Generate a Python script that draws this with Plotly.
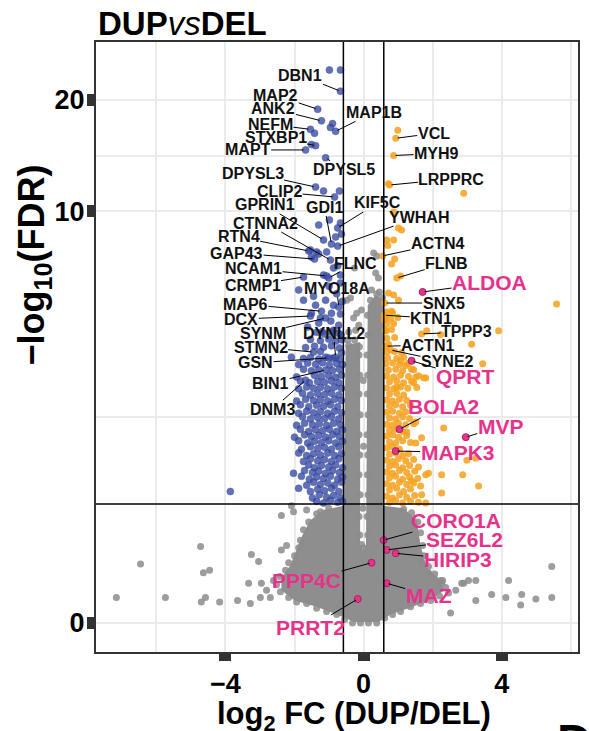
import numpy as np
import plotly.graph_objects as go

FONT = "Liberation Sans, Arial, sans-serif"

# thresholds
fc_cut = 0.585          # log2(1.5)
fdr_cut = 1.0           # -log10(0.1)

# axis ticks (raw -log10 FDR values)
x_ticks = [-4, 0, 4]
x_tick_text = ["\u22124", "0", "4"]
x_minor = [-6, -2, 2, 6]
y_ticks = [0, 10, 20]
y_tick_text = ["0", "10", "20"]

# ---------------- data: (log2FC, -log10 FDR) ----------------
down_points = [
    (-0.99, 24.0), (-0.67, 24.0), (-0.90, 17.3), (-0.96, 16.9), (-1.42, 16.3), (-1.51, 15.2),
    (-1.16, 11.36), (-0.70, 11.36), (-0.99, 9.45), (-1.30, 9.14), (-0.67, 9.26), (-0.64, 8.62),
    (-0.81, 8.46), (-1.36, 7.67), (-1.54, 7.77), (-1.51, 7.42), (-1.30, 7.57), (-1.07, 7.67),
    (-0.87, 6.90), (-1.16, 6.58), (-0.67, 6.58), (-0.67, 6.24), (-1.88, 5.95), (-1.74, 5.55),
    (-1.39, 5.36), (-1.10, 5.55), (-0.87, 5.36), (-0.93, 5.07), (-1.51, 5.07), (-1.25, 4.90),
    (-0.67, 5.04), (-0.72, 4.66), (-0.87, 4.50), (-1.30, 4.73), (-3.86, 1.15),
    (-0.75, 7.00), (-1.00, 6.10), (-0.78, 5.80), (-1.45, 5.70), (-0.62, 5.50), (-1.20, 4.45),
    (-0.95, 4.80), (-0.65, 4.35), (-1.62, 4.60),
    (-1.36, 4.43), (-1.13, 4.38), (-0.93, 4.44), (-0.72, 4.40),
    (-1.54, 4.21), (-1.25, 4.17), (-1.01, 4.22), (-0.81, 4.16), (-0.64, 4.20),
    (-1.68, 3.97), (-1.42, 4.01), (-1.16, 3.98), (-0.93, 4.02), (-0.70, 3.96),
    (-1.25, 3.86), (-0.64, 3.82),
    (-2.09, 3.70), (-1.74, 3.66), (-1.54, 3.69), (-1.30, 3.65), (-1.10, 3.70), (-0.90, 3.67), (-0.70, 3.64),
    (-1.88, 3.50), (-1.62, 3.54), (-1.39, 3.51), (-1.19, 3.55), (-0.99, 3.49), (-0.78, 3.53), (-0.61, 3.50),
    (-1.74, 3.38), (-1.51, 3.34), (-1.30, 3.37), (-0.90, 3.35), (-0.70, 3.38),
    (-1.94, 3.19), (-1.42, 3.23), (-1.22, 3.20), (-1.01, 3.22), (-0.81, 3.18), (-0.64, 3.23),
    (-1.83, 3.09), (-1.57, 3.05), (-1.33, 3.08), (-1.13, 3.06), (-0.93, 3.09), (-0.72, 3.05),
    (-1.88, 2.91), (-1.65, 2.95), (-1.45, 2.92), (-1.25, 2.94), (-1.04, 2.91), (-0.84, 2.95), (-0.64, 2.92),
    (-1.77, 2.81), (-1.54, 2.77), (-1.33, 2.80), (-1.13, 2.78), (-0.93, 2.81), (-0.72, 2.77),
    (-1.94, 2.64), (-1.68, 2.68), (-1.45, 2.65), (-1.25, 2.67), (-1.04, 2.64), (-0.84, 2.68), (-0.64, 2.65),
    (-1.83, 2.56), (-1.59, 2.52), (-1.36, 2.55), (-1.16, 2.53), (-0.96, 2.56), (-0.75, 2.52),
    (-1.88, 2.39), (-1.65, 2.43), (-1.45, 2.40), (-1.25, 2.42), (-1.04, 2.39), (-0.84, 2.43), (-0.64, 2.40),
    (-1.77, 2.32), (-1.54, 2.28), (-1.33, 2.31), (-1.13, 2.29), (-0.93, 2.32), (-0.72, 2.28),
    (-1.94, 2.16), (-1.71, 2.20), (-1.48, 2.17), (-1.28, 2.19), (-1.07, 2.16), (-0.87, 2.20), (-0.67, 2.17),
    (-1.83, 2.09), (-1.59, 2.05), (-1.39, 2.08), (-1.19, 2.06), (-0.99, 2.09), (-0.78, 2.05), (-0.61, 2.08),
    (-2.00, 1.95), (-1.71, 1.99), (-1.51, 1.96), (-1.30, 1.98), (-1.10, 1.95), (-0.90, 1.99), (-0.70, 1.96),
    (-1.88, 1.89), (-1.62, 1.85), (-1.42, 1.88), (-1.22, 1.86), (-1.01, 1.89), (-0.81, 1.85), (-0.61, 1.88),
    (-1.80, 1.75), (-1.54, 1.79), (-1.33, 1.76), (-1.13, 1.78), (-0.93, 1.75), (-0.72, 1.79),
    (-1.88, 1.69), (-1.65, 1.65), (-1.45, 1.68), (-1.25, 1.66), (-1.04, 1.69), (-0.84, 1.65), (-0.64, 1.68),
    (-1.74, 1.56), (-1.54, 1.60), (-1.33, 1.57), (-1.13, 1.59), (-0.93, 1.56), (-0.72, 1.60),
    (-1.59, 1.51), (-1.42, 1.47), (-1.22, 1.50), (-1.01, 1.48), (-0.81, 1.51), (-0.61, 1.47),
    (-2.03, 1.39), (-1.71, 1.43), (-1.48, 1.40), (-1.30, 1.42), (-1.10, 1.39), (-0.90, 1.43), (-0.70, 1.40),
    (-1.80, 1.35), (-1.57, 1.31), (-1.36, 1.34), (-1.16, 1.32), (-0.96, 1.35), (-0.75, 1.31), (-0.61, 1.34),
    (-1.65, 1.23), (-1.45, 1.27), (-1.25, 1.24), (-1.04, 1.26), (-0.84, 1.23), (-0.64, 1.27),
    (-1.88, 1.19), (-1.54, 1.15), (-1.33, 1.18), (-1.13, 1.16), (-0.93, 1.19), (-0.72, 1.15),
    (-1.48, 1.07), (-1.28, 1.11), (-1.07, 1.08), (-0.87, 1.10), (-0.67, 1.07),
    (-1.36, 1.03), (-1.16, 1.01), (-0.96, 1.04), (-0.75, 1.02), (-0.61, 1.03),
]

up_points = [
    (0.99, 16.6), (2.90, 11.2), (0.72, 11.9), (1.01, 8.97), (1.10, 8.85), (0.67, 8.3), (0.87, 8.3),
    (0.70, 8.0), (0.81, 7.08), (0.90, 7.32), (1.07, 6.54), (0.72, 5.83), (0.87, 5.75), (1.01, 5.55),
    (5.59, 5.40), (0.81, 5.14), (0.87, 9.94), (1.83, 4.48), (2.23, 4.36), (3.91, 4.48), (3.13, 4.07),
    (3.45, 3.52), (1.22, 3.48), (1.51, 3.18), (1.80, 3.16), (1.45, 3.05), (0.96, 2.95), (1.51, 2.22),
    (1.25, 2.04), (2.32, 2.11), (1.51, 1.85), (1.68, 1.94), (3.25, 1.61), (2.99, 1.58), (1.88, 1.39),
    (1.80, 1.37), (2.26, 1.37), (2.87, 1.37), (3.33, 1.22), (2.26, 1.13), (1.68, 1.11), (1.80, 1.01),
    (1.39, 1.29), (1.65, 1.22), (0.60, 4.83), (0.64, 4.47), (1.07, 3.60), (1.39, 3.38), (1.74, 3.17),
    (0.67, 5.11), (0.84, 5.09),
    (0.64, 4.90), (0.78, 4.88), (0.99, 4.92),
    (0.67, 4.70), (0.87, 4.72),
    (0.64, 4.50), (0.81, 4.52),
    (0.67, 4.25), (0.90, 4.27),
    (0.72, 4.07),
    (0.67, 3.84), (0.90, 3.86), (1.10, 3.82),
    (0.70, 3.68), (0.96, 3.66), (1.16, 3.70),
    (0.64, 3.52), (0.84, 3.54), (1.04, 3.50), (1.28, 3.53),
    (0.72, 3.36), (0.93, 3.38), (1.13, 3.34), (1.45, 3.37),
    (0.67, 3.21), (0.87, 3.19), (1.07, 3.23), (1.30, 3.20), (1.59, 3.22),
    (0.75, 3.07), (0.96, 3.09), (1.16, 3.05), (1.39, 3.08),
    (0.67, 2.93), (0.87, 2.91), (1.07, 2.95), (1.28, 2.92), (1.54, 2.94),
    (0.75, 2.79), (0.96, 2.81), (1.16, 2.77),
    (0.67, 2.66), (0.84, 2.64), (1.04, 2.68), (1.25, 2.65),
    (0.75, 2.54), (0.93, 2.56), (1.13, 2.52), (1.36, 2.55),
    (0.67, 2.41), (0.84, 2.43), (1.04, 2.39), (1.22, 2.42),
    (0.75, 2.30), (0.93, 2.28), (1.13, 2.32), (1.33, 2.29),
    (0.67, 2.18), (0.84, 2.16), (1.01, 2.20), (1.22, 2.17), (1.45, 2.19),
    (0.75, 2.07), (0.93, 2.09), (1.13, 2.05),
    (0.67, 1.97), (0.84, 1.99), (1.01, 1.95), (1.25, 1.98),
    (0.75, 1.87), (0.93, 1.85), (1.13, 1.89), (1.36, 1.86),
    (0.67, 1.77), (0.84, 1.79), (1.04, 1.75),
    (0.75, 1.67), (0.93, 1.69), (1.13, 1.65), (1.30, 1.68),
    (0.67, 1.58), (0.84, 1.56), (1.01, 1.60), (1.22, 1.57), (1.45, 1.59),
    (0.75, 1.49), (0.93, 1.51), (1.13, 1.47), (1.33, 1.50), (1.59, 1.48),
    (0.67, 1.41), (0.84, 1.39), (1.04, 1.43), (1.25, 1.40), (1.48, 1.42),
    (0.75, 1.33), (0.93, 1.35), (1.13, 1.31), (1.33, 1.34), (1.57, 1.32),
    (0.67, 1.25), (0.84, 1.23), (1.04, 1.27), (1.25, 1.24), (1.45, 1.26),
    (0.75, 1.17), (0.96, 1.19), (1.16, 1.15), (1.36, 1.18),
    (0.67, 1.09), (0.84, 1.07), (1.04, 1.11), (1.25, 1.08), (1.48, 1.10),
    (0.75, 1.02), (0.93, 1.04), (1.13, 1.01), (1.36, 1.03), (1.59, 1.02),
]

ns_points = [
    # scattered, between the FC cut-offs
    (0.38, 7.47), (0.29, 7.62), (0.35, 6.67), (0.43, 6.45), (0.23, 5.95), (0.46, 5.87),
    (-0.49, 5.55), (-0.38, 5.63), (-0.06, 5.18), (-0.20, 5.07), (-0.29, 4.90), (-0.14, 4.66),
    (-0.43, 4.44), (-0.23, 4.50), (-0.46, 4.19), (-0.26, 6.90),
    # scattered, below the FDR cut-off
    (-7.16, 0.16), (-6.46, 0.41), (-5.74, 0.16), (-4.72, 0.56), (-4.64, 0.34), (-4.46, 0.36),
    (-4.70, 0.13), (-4.58, 0.16), (-4.17, 0.13), (-3.65, 0.14), (-3.28, 0.12), (-3.25, 0.49),
    (-3.04, 0.43), (-2.38, 0.87), (-2.38, 0.53), (-2.09, 0.98), (-1.65, 0.93), (2.52, 0.06),
    (3.25, 0.14), (3.71, 0.18), (4.12, 0.16), (4.55, 0.11), (4.58, 0.18), (4.99, 0.15),
    (5.45, 0.16), (5.45, 0.39), (4.20, 0.28), (3.25, 0.28), (2.90, 0.26), (2.23, 0.28),
    (1.88, 0.34), (1.68, 0.42), (-3.33, 0.26), (-2.96, 0.26), (-2.81, 0.21), (-2.99, 0.16),
    (-2.70, 0.16), (-2.61, 0.28), (-2.23, 0.57), (-2.03, 0.91), (2.46, 0.19), (2.67, 0.21),
    (2.84, 0.26), (3.04, 0.28), (2.26, 0.26),
    # edge of the dense cloud
    (-1.88, 0.55), (-2.00, 0.48), (-2.17, 0.42), (-2.26, 0.36), (-2.43, 0.31), (-2.52, 0.25),
    (-2.41, 0.20), (-2.17, 0.16), (-1.94, 0.13), (-1.65, 0.12), (-1.36, 0.09), (-1.07, 0.07),
    (-0.78, 0.05), (-0.55, 0.02), (-0.32, 0.0), (-0.09, 0.0), (0.14, 0.0), (0.38, 0.0),
    (0.61, 0.03), (0.84, 0.05), (1.07, 0.07), (1.36, 0.10), (1.65, 0.12), (1.94, 0.14),
    (2.20, 0.17), (2.38, 0.23), (2.29, 0.28), (2.06, 0.33), (1.88, 0.39), (1.74, 0.48),
    (1.71, 0.57), (1.65, 0.69), (1.57, 0.80), (1.39, 0.90), (1.16, 0.94), (-1.59, 0.80),
    (-1.74, 0.72), (-1.83, 0.62), (-1.36, 0.89), (-1.01, 0.95), (-1.25, 0.91),
    (-0.13, 3.76), (-0.11, 3.23), (-0.13, 2.79), (-0.10, 2.36), (-0.13, 1.99), (-0.11, 1.66),
    (-0.13, 1.37), (-0.10, 1.11), (-0.13, 0.86), (-0.11, 0.67), (-0.06, 0.58), (0.00, 0.55),
    (0.11, 5.00), (0.13, 4.35), (0.10, 3.76), (0.12, 3.23), (0.11, 2.79), (0.13, 2.36),
    (0.10, 1.99), (0.12, 1.66), (0.11, 1.37), (0.13, 1.11), (0.10, 0.86), (0.12, 0.67),
    (-0.01, 3.10), (0.00, 1.80), (-0.02, 0.95),
    (-0.43, 4.04), (-0.26, 4.19), (-0.12, 3.99), (0.20, 5.55), (0.38, 5.79), (0.55, 5.63),
]

# outline of the solid, fully overlapping part of the non-significant cloud
dense_fc = [-0.52, -0.10, -0.10, -0.02, 0.07, 0.12, 0.35, 0.58, 0.58, 1.16, 1.54, 1.65, 1.83,
            2.17, 2.35, 1.88, 1.30, 0.78, 0.43, -0.26, -0.78, -1.36, -2.00, -2.38, -2.38,
            -2.12, -1.94, -1.77, -1.54, -1.16, -0.58]
dense_fdr = [4.04, 4.13, 0.58, 0.52, 0.58, 5.36, 5.75, 5.55, 0.98, 0.95, 0.82, 0.57, 0.38,
             0.30, 0.21, 0.14, 0.09, 0.05, 0.006, 0.006, 0.05, 0.10, 0.14, 0.21, 0.30,
             0.40, 0.53, 0.67, 0.82, 0.93, 0.98]

# labelled genes
lab_gene = ["DBN1", "MAP2", "ANK2", "MAP1B", "NEFM", "STXBP1", "MAPT", "DPYSL5", "DPYSL3",
            "CLIP2", "GPRIN1", "GDI1", "KIF5C", "YWHAH", "CTNNA2", "RTN4", "GAP43", "NCAM1",
            "CRMP1", "FLNC", "MYO18A", "MAP6", "DCX", "SYNM", "STMN2", "GSN", "DYNLL2", "BIN1",
            "DNM3",
            "VCL", "MYH9", "LRPPRC", "ACTN4", "FLNB", "SNX5", "KTN1", "TPPP3", "ACTN1", "SYNE2",
            "ALDOA", "QPRT", "BOLA2", "MVP", "MAPK3", "CORO1A", "SEZ6L2", "HIRIP3", "PPP4C",
            "MAZ", "PRRT2"]
lab_fc = [-0.67, -1.33, -1.22, -0.81, -1.54, -1.39, -1.68, -1.10, -1.39,
          -0.84, -1.16, -0.93, -0.75, -0.75, -0.96, -1.59, -1.42, -1.07,
          -1.74, -1.01, -0.72, -1.22, -1.54, -1.10, -1.45, -1.01, -0.81, -1.10,
          -1.68,
          0.93, 0.87, 0.75, 0.55, 0.96, 0.61, 0.60, 1.68, 0.64, 0.78,
          1.71, 1.39, 1.04, 2.96, 0.93, 0.58, 0.67, 0.93, 0.23,
          0.67, -0.17]
lab_fdr = [21.1, 18.9, 17.6, 16.5, 16.7, 15.1, 14.7, 14.0, 11.65,
           10.94, 8.3, 8.08, 8.97, 7.97, 7.27, 7.72, 7.32, 6.54,
           6.49, 6.45, 5.29, 5.14, 4.97, 4.90, 3.84, 3.68, 3.70, 3.36,
           3.11,
           15.8, 14.2, 11.8, 7.47, 6.45, 5.44, 5.0, 4.38, 4.01, 3.90,
           5.87, 3.60, 2.09, 1.95, 1.72, 0.62, 0.53, 0.50, 0.42,
           0.26, 0.15]
lab_group = ["down"] * 29 + ["up"] * 10 + ["highlight"] * 11

# label placement (pixel offsets of the label centre from its point)
lab_dx = [-40, -42, -48, 38, -40, -40, -58, 18, -63,
          -55, -59, -7, 40, 81, -65, -70, -78, -73,
          -51, 27, -2, -76, -69, -63, -53, -73, -2, -55,
          -33,
          38, 43, 62, 55, 50, 59, 47, 45, 42, 57,
          67, 54, 44, 35, 62, 72, 78, 62, -65,
          42, -47]
lab_dy = [-16, -14, -12, -19, -5, -8, 0, 12, -14,
          -5, -35, -37, -25, -29, -37, -14, -6, -7,
          8, -15, -19, -7, 3, 15, -5, 5, -24, 13,
          29,
          -5, -2, -6, -12, -15, 0, 3, -2, -1, 12,
          -9, 16, -23, -11, 1, -20, -10, 6, 18,
          12, 28]

# ---------------- figure ----------------
def ty(v):
    """pseudo-log y scale used by the chart: log10(1 + y)"""
    return np.log10(1.0 + np.asarray(v, dtype=float))

BLUE = "#3A4DA6"
ORANGE = "#F5A11C"
GREY = "#8C8C8C"
PINK = "#E5338C"

grp = np.array(lab_group)
lfc = np.array(lab_fc)
lfdr = np.array(lab_fdr)

down_fc = [p[0] for p in down_points] + list(lfc[grp == "down"])
down_fdr = [p[1] for p in down_points] + list(lfdr[grp == "down"])
up_fc = [p[0] for p in up_points] + list(lfc[grp == "up"])
up_fdr = [p[1] for p in up_points] + list(lfdr[grp == "up"])
ns_fc = [p[0] for p in ns_points]
ns_fdr = [p[1] for p in ns_points]

fig = go.Figure()
fig.add_trace(go.Scatter(x=dense_fc, y=ty(dense_fdr), mode="lines", fill="toself",
                         fillcolor="#8E8E8E", line=dict(width=0), hoverinfo="skip"))
fig.add_trace(go.Scatter(x=ns_fc, y=ty(ns_fdr), mode="markers",
                         marker=dict(size=7, color=GREY, opacity=0.85, line=dict(width=0))))
fig.add_trace(go.Scatter(x=down_fc, y=ty(down_fdr), mode="markers",
                         marker=dict(size=7, color=BLUE, opacity=0.8,
                                     line=dict(width=0.6, color="#2E3F8F"))))
fig.add_trace(go.Scatter(x=up_fc, y=ty(up_fdr), mode="markers",
                         marker=dict(size=7, color=ORANGE, opacity=0.85, line=dict(width=0))))
fig.add_trace(go.Scatter(x=lfc[grp == "highlight"], y=ty(lfdr[grp == "highlight"]), mode="markers",
                         marker=dict(size=7, color=PINK, line=dict(width=1, color="#A8235F"))))

annotations = []
for g, fc, fdr, grpname, dx, dy in zip(lab_gene, lab_fc, lab_fdr, lab_group, lab_dx, lab_dy):
    hl = grpname == "highlight"
    annotations.append(dict(
        x=fc, y=float(ty(fdr)), xref="x", yref="y", text=g, showarrow=True,
        ax=dx, ay=dy, arrowhead=0, arrowwidth=1, arrowcolor="black", standoff=2,
        font=dict(family=FONT, size=21 if hl else 16, color=PINK if hl else "#111111",
                  weight="bold"),
        borderpad=0,
    ))

# titles
annotations.append(dict(text="<b>DUP</b><i>vs</i><b>DEL</b>", xref="paper", yref="paper",
                        x=0.0, y=1.0, xanchor="left", yanchor="bottom", showarrow=False,
                        yshift=-2,
                        font=dict(family=FONT, size=33, color="black")))
annotations.append(dict(text="log<sub>2</sub> FC (DUP/DEL)", xref="paper", yref="paper",
                        x=0.535, y=-0.105, xanchor="center", yanchor="middle", showarrow=False,
                        font=dict(family=FONT, size=31, color="black", weight="bold")))
annotations.append(dict(text="\u2212log<sub>10</sub>(FDR)", xref="paper", yref="paper",
                        x=-0.128, y=0.634, xanchor="center", yanchor="middle", showarrow=False,
                        textangle=-90,
                        font=dict(family=FONT, size=36, color="black", weight="bold")))
annotations.append(dict(text="D", xref="paper", yref="paper", x=0.952, y=-0.100,
                        xanchor="left", yanchor="top", showarrow=False,
                        font=dict(family=FONT, size=48, color="black", weight="bold")))

shapes = [
    dict(type="line", xref="x", yref="paper", x0=-fc_cut, x1=-fc_cut, y0=0, y1=1,
         line=dict(color="black", width=1.5), layer="above"),
    dict(type="line", xref="x", yref="paper", x0=fc_cut, x1=fc_cut, y0=0, y1=1,
         line=dict(color="black", width=1.5), layer="above"),
    dict(type="line", xref="paper", yref="y", x0=0, x1=1, y0=float(ty(fdr_cut)), y1=float(ty(fdr_cut)),
         line=dict(color="black", width=1.5), layer="above"),
]

axis_common = dict(ticks="outside", ticklen=7, tickwidth=12, tickcolor="#333333",
                   showline=True, linecolor="#333333", linewidth=2, mirror=True,
                   showgrid=True, gridcolor="#EBEBEB", gridwidth=2, zeroline=False,
                   tickfont=dict(family=FONT, size=27, color="black", weight="bold"))

y_minor = [float((ty(y_ticks[0]) + ty(y_ticks[1])) / 2), float((ty(y_ticks[1]) + ty(y_ticks[2])) / 2)]

fig.update_layout(
    width=589, height=731,
    margin=dict(l=96, r=9, t=42, b=79, pad=0),
    plot_bgcolor="white", paper_bgcolor="white",
    showlegend=False,
    xaxis=dict(range=[-7.75, 6.21], tickmode="array", tickvals=x_ticks, ticktext=x_tick_text,
               minor=dict(tickvals=x_minor, showgrid=True, gridcolor="#EBEBEB", gridwidth=2, ticks=""),
               **axis_common),
    yaxis=dict(range=[-0.0733, 1.4688], tickmode="array", tickvals=list(ty(y_ticks)),
               ticktext=y_tick_text, ticklabelstandoff=-3,
               minor=dict(tickvals=y_minor, showgrid=True, gridcolor="#EBEBEB", gridwidth=2, ticks=""),
               **axis_common),
    annotations=annotations,
    shapes=shapes,
)

fig.write_html("out.html")
